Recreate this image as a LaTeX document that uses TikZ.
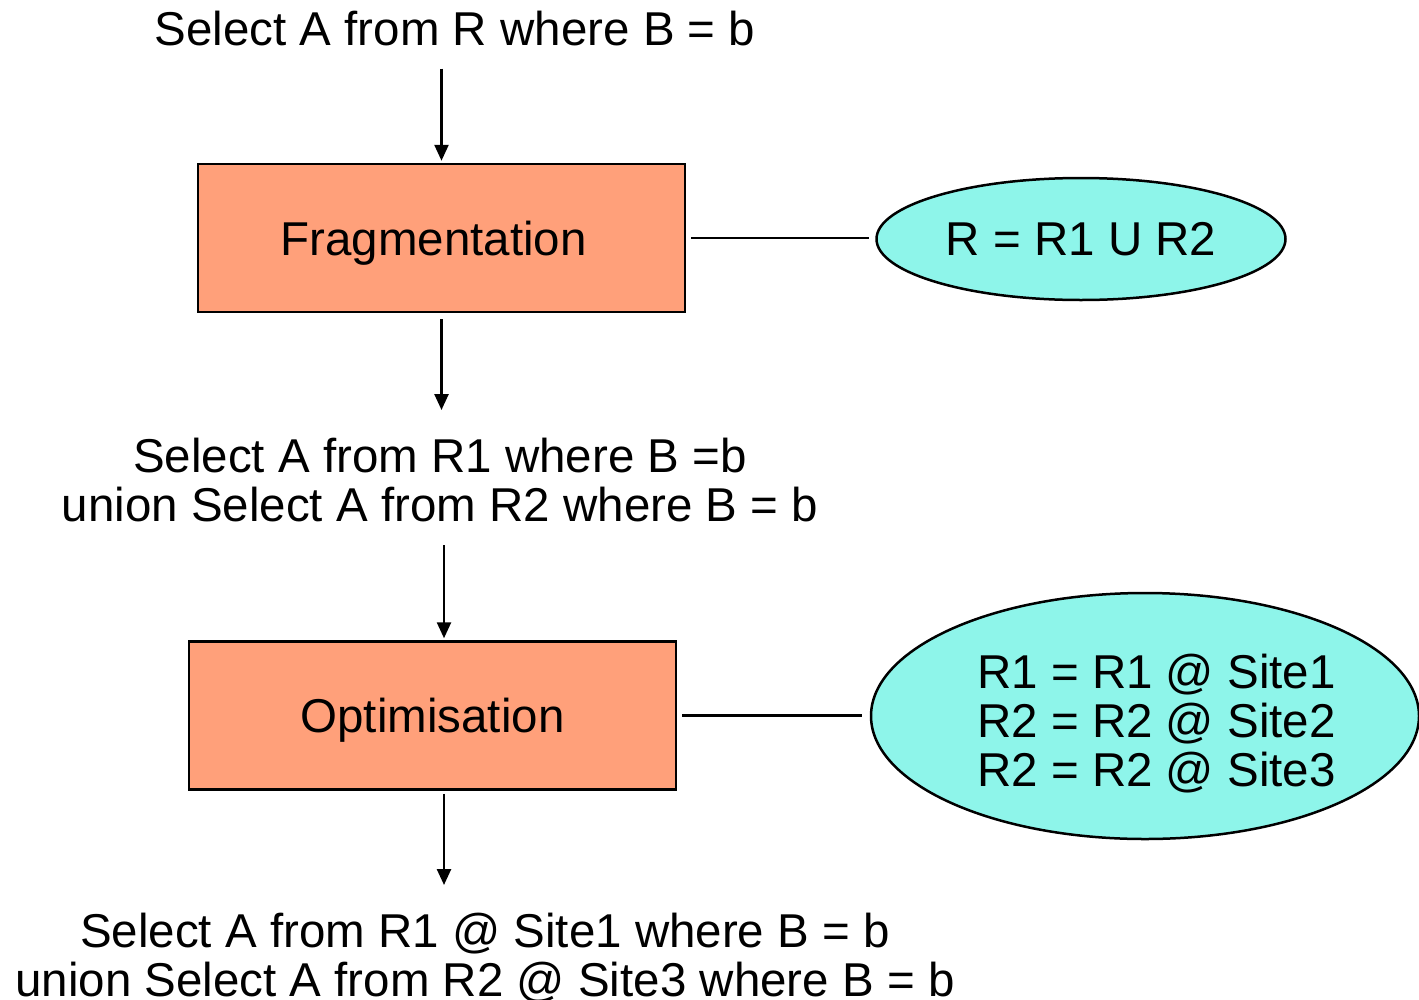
\documentclass[tikz,border=0pt]{standalone}
\usepackage{fontspec}
\setmainfont{Liberation Sans}
\usetikzlibrary{arrows.meta,shapes.geometric}
\definecolor{boxsalmon}{RGB}{255,160,122}
\definecolor{ellaqua}{RGB}{142,245,234}
\tikzset{
  stage/.style={draw=black, line width=2.5pt, fill=boxsalmon, minimum width=487pt, minimum height=148pt, text depth=0pt, inner sep=0pt},
  note/.style={draw=black, line width=2.5pt, fill=ellaqua, ellipse, inner sep=0pt},
  query/.style={inner sep=0pt, align=center},
  flow/.style={line width=2.5pt, -{Triangle[width=14pt,length=16pt]}},
  link/.style={line width=2.5pt},
}
\begin{document}
\begin{tikzpicture}[x=1pt, y=-1pt, font=\fontsize{47.5}{49}\selectfont]
      \useasboundingbox (0,0) rectangle (1419,999);

      \node[query] (q0) at (455,29) {Select A from R where B = b};
      \node[stage] (frag) at (441.5,238) {Fragmentation\hspace*{16pt}};
      \node[note, minimum width=409pt, minimum height=122pt] (union) at (1081,239) {R = R1 U R2};
      \draw[flow, shorten <=22pt, shorten >=2pt] (frag.north |- q0.south) -- (frag.north);
      \draw[link, shorten <=5pt, shorten >=6pt] (frag.east) -- (union.west |- frag.east);

      \node[query, anchor=north] (q1) at (440,438) {Select A from R1 where B =b\\union Select A from R2 where B = b};
      \draw[flow, shorten <=6pt, shorten >=28pt] (frag.south) -- (frag.south |- q1.north);

      \node[stage] (opt) at (432.5,715.5) {Optimisation};
      \node[note, minimum width=548pt, minimum height=246pt] (sites) at (1145,716) {};
      \node[inner sep=0pt, align=left, anchor=north west] (alloc) at (977,654) {R1 = R1 @ Site1\\R2 = R2 @ Site2\\R2 = R2 @ Site3};
      \draw[flow, shorten <=23pt, shorten >=2pt] ([xshift=11.5pt]opt.north |- q1.south) -- ([xshift=11.5pt]opt.north);
      \draw[link, shorten <=5pt, shorten >=8pt] (opt.east) -- (sites.west |- opt.east);

      \node[query, anchor=north] (q2) at (485,913) {Select A from R1 @ Site1 where B = b\\union Select A from R2 @ Site3 where B = b};
      \draw[flow, shorten <=3pt, shorten >=28pt] ([xshift=11.5pt]opt.south) -- ([xshift=11.5pt]opt.south |- q2.north);
    \end{tikzpicture}
\end{document}
